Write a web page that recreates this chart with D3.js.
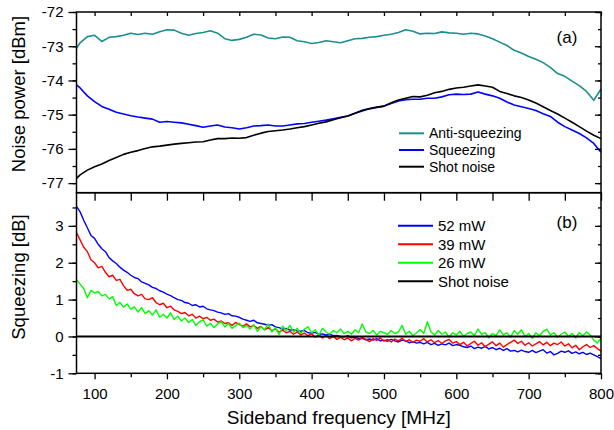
<!DOCTYPE html>
<html>
<head>
<meta charset="utf-8">
<script src="https://cdn.jsdelivr.net/npm/d3@7"></script>
<style>
    body { margin: 0; background: #fff; }
    svg { font-family: Arial, "Liberation Sans", sans-serif; }
</style>
</head>
<body>
<div id="chart"></div>
<script>
// ---- data ----
// (a) noise power [dBm], sampled every 10 MHz
const freqTop = [75, ...d3.range(80, 801, 10)];
const antiSqueezing = [
    -73.06, -72.90, -72.72, -72.68, -72.86, -72.74, -72.72, -72.68, -72.62, -72.66,
    -72.62, -72.65, -72.58, -72.52, -72.53, -72.62, -72.68, -72.63, -72.60, -72.55,
    -72.62, -72.78, -72.83, -72.80, -72.74, -72.65, -72.67, -72.76, -72.78, -72.73,
    -72.74, -72.84, -72.87, -72.92, -72.89, -72.84, -72.87, -72.90, -72.84, -72.78,
    -72.77, -72.74, -72.72, -72.68, -72.65, -72.60, -72.52, -72.56, -72.64, -72.62,
    -72.63, -72.58, -72.61, -72.62, -72.65, -72.62, -72.64, -72.70, -72.78, -72.88,
    -72.98, -73.12, -73.20, -73.30, -73.38, -73.48, -73.62, -73.80, -73.88, -74.02,
    -74.15, -74.32, -74.58, -74.25,
];
const squeezing = [
    -74.13, -74.22, -74.45, -74.62, -74.76, -74.84, -74.93, -74.98, -75.03, -75.07,
    -75.10, -75.13, -75.22, -75.20, -75.22, -75.24, -75.28, -75.32, -75.37, -75.33,
    -75.30, -75.36, -75.38, -75.42, -75.38, -75.33, -75.32, -75.30, -75.33, -75.33,
    -75.30, -75.27, -75.26, -75.22, -75.19, -75.16, -75.12, -75.08, -75.04, -74.96,
    -74.89, -74.83, -74.79, -74.75, -74.67, -74.60, -74.56, -74.55, -74.55, -74.52,
    -74.52, -74.48, -74.42, -74.40, -74.41, -74.40, -74.34, -74.40, -74.45, -74.52,
    -74.63, -74.72, -74.77, -74.82, -74.88, -74.97, -75.05, -75.22, -75.35, -75.45,
    -75.55, -75.68, -75.84, -76.10,
];
const shotNoise = [
    -76.86, -76.76, -76.62, -76.52, -76.44, -76.34, -76.25, -76.16, -76.10, -76.05,
    -75.99, -75.94, -75.92, -75.89, -75.86, -75.84, -75.82, -75.80, -75.79, -75.74,
    -75.70, -75.70, -75.68, -75.69, -75.67, -75.60, -75.54, -75.49, -75.47, -75.45,
    -75.42, -75.38, -75.35, -75.30, -75.25, -75.21, -75.15, -75.09, -75.04, -74.96,
    -74.87, -74.82, -74.78, -74.75, -74.65, -74.57, -74.52, -74.47, -74.48, -74.43,
    -74.36, -74.32, -74.26, -74.22, -74.20, -74.16, -74.13, -74.16, -74.20, -74.32,
    -74.38, -74.45, -74.50, -74.57, -74.66, -74.77, -74.88, -74.98, -75.10, -75.22,
    -75.35, -75.48, -75.60, -75.70,
];

// (b) squeezing [dB], sampled every 5 MHz
const freqBottom = d3.range(75, 801, 5);
const sq52 = [
    3.53, 3.38, 3.15, 2.95, 2.74, 2.66, 2.50, 2.38, 2.30, 2.14,
    2.05, 1.98, 1.88, 1.80, 1.74, 1.66, 1.60, 1.57, 1.48, 1.44,
    1.40, 1.33, 1.30, 1.24, 1.20, 1.15, 1.11, 1.05, 1.00, 0.98,
    0.92, 0.90, 0.84, 0.86, 0.80, 0.82, 0.75, 0.72, 0.70, 0.66,
    0.64, 0.60, 0.62, 0.56, 0.55, 0.52, 0.47, 0.44, 0.41, 0.44,
    0.37, 0.35, 0.33, 0.30, 0.32, 0.26, 0.24, 0.20, 0.22, 0.17,
    0.18, 0.15, 0.14, 0.16, 0.10, 0.09, 0.11, 0.06, 0.07, 0.04,
    0.06, 0.02, 0.03, 0.00, -0.01, 0.02, -0.04, -0.02, -0.06, -0.05,
    -0.09, -0.07, -0.10, -0.06, -0.12, -0.10, -0.13, -0.08, -0.12, -0.15,
    -0.10, -0.12, -0.17, -0.14, -0.18, -0.16, -0.20, -0.16, -0.22, -0.19,
    -0.24, -0.20, -0.23, -0.18, -0.25, -0.22, -0.24, -0.28, -0.30, -0.26,
    -0.33, -0.29, -0.32, -0.27, -0.34, -0.30, -0.36, -0.32, -0.38, -0.33,
    -0.40, -0.38, -0.42, -0.37, -0.41, -0.43, -0.38, -0.44, -0.40, -0.36,
    -0.45, -0.41, -0.50, -0.46, -0.40, -0.43, -0.39, -0.46, -0.42, -0.47,
    -0.43, -0.49, -0.45, -0.50, -0.55, -0.60,
];
const sq39 = [
    2.82, 2.62, 2.42, 2.30, 2.08, 2.00, 1.86, 1.90, 1.74, 1.62,
    1.66, 1.52, 1.55, 1.38, 1.25, 1.28, 1.16, 1.10, 1.14, 1.02,
    1.00, 1.05, 0.92, 0.86, 0.90, 0.78, 0.82, 0.72, 0.68, 0.62,
    0.65, 0.56, 0.60, 0.50, 0.55, 0.48, 0.52, 0.44, 0.47, 0.39,
    0.42, 0.35, 0.37, 0.30, 0.38, 0.32, 0.28, 0.34, 0.26, 0.30,
    0.22, 0.27, 0.18, 0.24, 0.16, 0.20, 0.12, 0.17, 0.10, 0.14,
    0.06, 0.12, 0.04, 0.09, 0.02, 0.07, -0.02, 0.04, -0.04, 0.03,
    -0.06, 0.00, -0.08, -0.02, -0.09, -0.04, -0.12, -0.05, -0.10, -0.03,
    -0.08, -0.14, -0.06, -0.11, -0.04, -0.13, -0.08, -0.15, -0.07, -0.12,
    -0.05, -0.14, -0.09, -0.16, -0.10, -0.13, -0.06, -0.15, -0.09, -0.17,
    -0.11, -0.19, -0.12, -0.08, -0.18, -0.14, -0.22, -0.16, -0.26, -0.19,
    -0.13, -0.24, -0.17, -0.28, -0.21, -0.15, -0.25, -0.18, -0.29, -0.22,
    -0.16, -0.10, -0.19, -0.13, -0.24, -0.17, -0.26, -0.20, -0.14, -0.23,
    -0.16, -0.25, -0.18, -0.22, -0.15, -0.26, -0.20, -0.31, -0.24, -0.36,
    -0.28, -0.22, -0.30, -0.25, -0.33, -0.40,
];
const sq26 = [
    1.54, 1.42, 1.30, 1.05, 1.25, 1.18, 1.22, 1.10, 1.14, 1.02,
    1.08, 0.84, 0.92, 0.80, 0.88, 0.74, 0.80, 0.66, 0.78, 0.62,
    0.70, 0.58, 0.72, 0.52, 0.60, 0.50, 0.64, 0.46, 0.55, 0.42,
    0.50, 0.38, 0.46, 0.30, 0.40, 0.45, 0.28, 0.36, 0.24, 0.34,
    0.40, 0.26, 0.35, 0.22, 0.30, 0.36, 0.24, 0.30, 0.20, 0.32,
    0.14, 0.26, 0.18, 0.34, 0.12, 0.24, 0.05, 0.28, 0.16, 0.30,
    0.12, 0.22, 0.08, 0.20, 0.26, 0.10, 0.18, 0.04, 0.22, 0.12,
    0.06, 0.16, 0.10, 0.20, 0.08, 0.14, 0.06, 0.18, 0.10, 0.34,
    0.12, 0.08, 0.16, 0.04, 0.14, 0.10, 0.06, 0.16, 0.08, 0.12,
    0.30, 0.06, 0.14, 0.02, 0.10, 0.18, 0.08, 0.40, 0.12, 0.04,
    0.16, 0.06, 0.12, -0.02, 0.10, 0.04, 0.14, 0.00, 0.08, 0.12,
    0.02, 0.20, 0.06, 0.10, -0.04, 0.08, 0.02, 0.18, 0.04, 0.10,
    -0.02, 0.16, 0.06, 0.18, 0.00, 0.08, -0.05, 0.10, 0.02, 0.14,
    0.20, 0.04, 0.10, -0.02, 0.06, 0.12, 0.00, 0.08, -0.04, 0.10,
    0.02, 0.12, 0.04, -0.10, -0.18, -0.05,
];
const shotRefFreq = [75, 800];
const shotRef = [0, 0];

const xTicks = [100, 200, 300, 400, 500, 600, 700, 800];
const xMinor = [150, 250, 350, 450, 550, 650, 750];
const yTopTicks = [-77, -76, -75, -74, -73, -72];
const yTopMinor = [-77, -76.5, -76, -75.5, -75, -74.5, -74, -73.5, -73, -72.5, -72];
const yBotTicks = [-1, 0, 1, 2, 3];
const yBotMinor = [-1, -0.5, 0, 0.5, 1, 1.5, 2, 2.5, 3, 3.5];

const legendTop = ['Anti-squeezing', 'Squeezing', 'Shot noise'];
const legendBottom = ['52 mW', '39 mW', '26 mW', 'Shot noise'];

// ---- layout ----
const width = 614;
const height = 430;
const margins = { top: 12, right: 13, bottom: 56.7, left: 76.5 };
const split = 192.7;
const teal = '#1a8f8f';

const svg = d3.select('#chart').append('svg')
    .attr('width', width)
    .attr('height', height);

const x = d3.scaleLinear([75, 800], [margins.left, width - margins.right]);
const yTop = d3.scaleLinear([-77.28, -72], [split, margins.top]);
const yBot = d3.scaleLinear([-1, 3.9], [height - margins.bottom, split]);

const zip = (xs, ys) => ys.map((v, i) => [xs[i], v]).filter(d => d[0] !== undefined);

function drawAxes(y, major, minor, top, bottom, showX) {
    const left = margins.left;
    const right = width - margins.right;
    const fmt = d => (d < 0 ? '-' + Math.abs(d) : d);

    svg.append('g').attr('transform', `translate(${left},0)`)
        .call(d3.axisLeft(y).tickValues(minor).tickSize(4).tickFormat(''))
        .call(g => g.select('.domain').remove());
    svg.append('g').attr('transform', `translate(${left},0)`)
        .call(d3.axisLeft(y).tickValues(major).tickSize(8).tickPadding(5).tickFormat(fmt))
        .call(g => g.select('.domain').remove())
        .call(g => g.selectAll('text').attr('font-size', 15).attr('fill', '#000'));

    svg.append('g').attr('transform', `translate(${right},0)`)
        .call(d3.axisRight(y).tickValues(minor).tickSize(-3).tickFormat(''))
        .call(g => g.select('.domain').remove());
    svg.append('g').attr('transform', `translate(${right},0)`)
        .call(d3.axisRight(y).tickValues(major).tickSize(-6).tickFormat(''))
        .call(g => g.select('.domain').remove());

    // ticks along the upper edge point down into the panel
    svg.append('g').attr('transform', `translate(0,${top})`)
        .call(d3.axisTop(x).tickValues(xTicks.concat(xMinor)).tickSize(showX ? -8 : -4).tickFormat(''))
        .call(g => g.select('.domain').remove());

    if (showX) {
        svg.append('g').attr('transform', `translate(0,${bottom})`)
            .call(d3.axisBottom(x).tickValues(xMinor).tickSize(4).tickFormat(''))
            .call(g => g.select('.domain').remove());
        svg.append('g').attr('transform', `translate(0,${bottom})`)
            .call(d3.axisBottom(x).tickValues(xTicks).tickSize(6).tickPadding(9))
            .call(g => g.select('.domain').remove())
            .call(g => g.selectAll('text').attr('font-size', 15).attr('fill', '#000'));
    }

    svg.selectAll('.tick line').attr('stroke', '#000').attr('stroke-width', 1.3);

    svg.append('rect')
        .attr('x', left).attr('y', top)
        .attr('width', right - left).attr('height', bottom - top)
        .attr('fill', 'none').attr('stroke', '#000').attr('stroke-width', 1.5);
}

function drawLines(y, series) {
    const line = d3.line().x(d => x(d[0])).y(d => y(d[1]));
    svg.append('g')
        .attr('fill', 'none')
        .attr('stroke-linejoin', 'round')
        .selectAll('path')
        .data(series)
        .join('path')
        .attr('stroke', d => d.color)
        .attr('stroke-width', d => d.width || 1.4)
        .attr('d', d => line(d.points));
}

function drawLegend(names, colors, x0, y0, step, size, len) {
    const g = svg.append('g');
    names.forEach((name, i) => {
        const yy = y0 + i * step;
        g.append('line')
            .attr('x1', x0).attr('x2', x0 + len)
            .attr('y1', yy).attr('y2', yy)
            .attr('stroke', colors[i]).attr('stroke-width', 2);
        g.append('text')
            .attr('x', x0 + len + 5).attr('y', yy)
            .attr('dy', '0.36em')
            .attr('font-size', size)
            .text(name);
    });
}

// ---- panel (a) ----
drawLines(yTop, [
    { color: teal, width: 1.6, points: zip(freqTop, antiSqueezing) },
    { color: '#0000ff', width: 1.6, points: zip(freqTop, squeezing) },
    { color: '#000', width: 1.6, points: zip(freqTop, shotNoise) },
]);
drawAxes(yTop, yTopTicks, yTopMinor, margins.top, split, false);
drawLegend(legendTop, [teal, '#0000ff', '#000'], 399, 133.3, 16.7, 14, 25);
svg.append('text').attr('x', 567).attr('y', 43).attr('text-anchor', 'middle')
    .attr('font-size', 17).text('(a)');

// ---- panel (b) ----
drawLines(yBot, [
    { color: '#0000ff', points: zip(freqBottom, sq52) },
    { color: '#ff0000', points: zip(freqBottom, sq39) },
    { color: '#00ff00', points: zip(freqBottom, sq26) },
    { color: '#000', width: 2, points: zip(shotRefFreq, shotRef) },
]);
drawAxes(yBot, yBotTicks, yBotMinor, split, height - margins.bottom, true);
drawLegend(legendBottom, ['#0000ff', '#ff0000', '#00ff00', '#000'], 398, 225.7, 18.5, 15, 35);
svg.append('text').attr('x', 567).attr('y', 228).attr('text-anchor', 'middle')
    .attr('font-size', 17).text('(b)');

// ---- axis titles ----
svg.append('text')
    .attr('transform', 'translate(25,94) rotate(-90)')
    .attr('text-anchor', 'middle').attr('font-size', 18.5)
    .text('Noise power [dBm]');
svg.append('text')
    .attr('transform', 'translate(25,277) rotate(-90)')
    .attr('text-anchor', 'middle').attr('font-size', 18.5)
    .text('Squeezing [dB]');
svg.append('text')
    .attr('x', (margins.left + width - margins.right) / 2).attr('y', 424)
    .attr('text-anchor', 'middle').attr('font-size', 19)
    .text('Sideband frequency [MHz]');
</script>
</body>
</html>
